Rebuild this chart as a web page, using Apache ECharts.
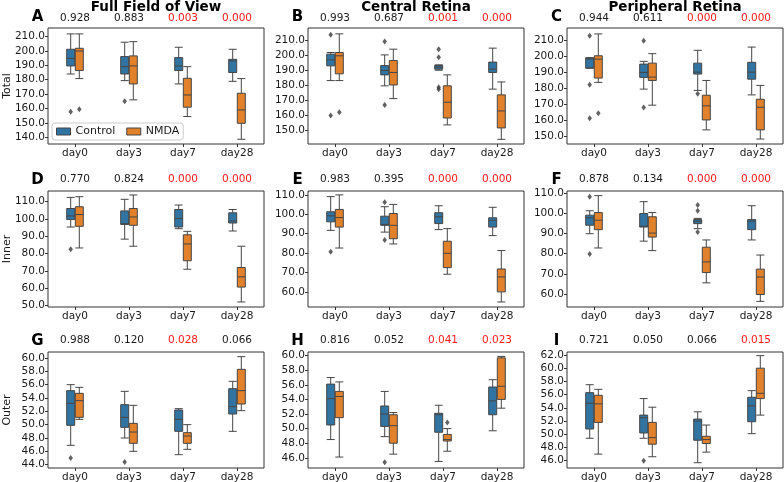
<!DOCTYPE html>
<html><head><meta charset="utf-8">
<script src="https://cdn.jsdelivr.net/npm/echarts@6/dist/echarts.min.js"></script>
<style>html,body{margin:0;padding:0;background:#fff}#c{width:784px;height:482px}</style>
</head><body><div id="c"></div>
<script>
const days = ['day0', 'day3', 'day7', 'day28'];
const columnTitles = ['Full Field of View', 'Central Retina', 'Peripheral Retina'];
const rowNames = ['Total', 'Inner', 'Outer'];
const panelLetters = ['A','B','C','D','E','F','G','H','I'];

// box values: [min, Q1, median, Q3, max]
const totalFullControl = [[184.0,189.6,194.9,201.2,211.9],[179.4,184.0,189.1,196.1,206.1],[177.1,186.4,189.6,195.4,202.6],[178.9,185.0,193.1,194.2,201.2]];
const totalFullNMDA    = [[180.8,186.4,200.0,201.9,211.9],[166.0,177.1,189.6,196.6,206.5],[154.4,160.9,169.4,181.0,189.1],[138.6,149.7,159.0,170.6,180.8]];
const totalFullControlOut = [[0,157.8],[1,165.0]];
const totalFullNMDAOut = [[0,159.5]];
const totalFullP = ['0.928','0.883','0.003','0.000'];

const totalCentralControl = [[183.3,193.1,197.1,200.9,202.0],[179.8,187.1,190.0,193.3,200.4],[190.2,190.9,192.2,193.3,193.8],[177.6,188.7,190.9,195.6,204.9]];
const totalCentralNMDA    = [[183.3,187.8,199.8,202.0,214.4],[171.3,180.4,188.7,196.7,204.2],[153.8,158.4,168.9,179.8,187.1],[144.2,151.8,163.1,173.8,182.4]];
const totalCentralControlOut = [[0,213.8],[0,160.0],[1,209.3],[1,167.1],[2,204.2],[2,198.9],[2,178.9],[2,177.6]];
const totalCentralNMDAOut = [[0,162.2]];
const totalCentralP = ['0.993','0.687','0.001','0.000'];

const totalPeriphControl = [[192.7,192.7,198.4,199.0,199.2],[179.6,186.9,190.0,195.2,196.9],[178.8,189.0,190.2,195.8,203.8],[176.0,185.8,190.2,196.3,205.8]];
const totalPeriphNMDA    = [[183.8,186.5,198.3,200.4,214.0],[169.6,185.0,187.1,195.8,201.7],[154.2,160.4,169.2,175.8,185.0],[148.5,154.2,168.3,173.3,181.9]];
const totalPeriphControlOut = [[0,212.9],[0,182.3],[0,161.5],[1,209.8],[1,168.1],[2,176.7]];
const totalPeriphNMDAOut = [[0,164.6]];
const totalPeriphP = ['0.944','0.611','0.000','0.000'];

const innerFullControl = [[95.4,99.7,101.8,106.1,112.5],[88.4,96.9,97.3,104.7,111.4],[94.4,95.4,100.3,105.5,108.1],[93.1,97.7,98.9,103.6,105.5]];
const innerFullNMDA    = [[83.3,95.8,102.6,107.1,112.9],[84.3,96.4,101.2,106.1,113.9],[71.0,75.9,85.6,90.9,92.9],[52.1,60.7,66.6,72.0,84.3]];
const innerFullControlOut = [[0,82.5]];
const innerFullNMDAOut = [];
const innerFullP = ['0.770','0.824','0.000','0.000'];

const innerCentralControl = [[91.7,96.1,99.2,101.3,109.1],[90.8,94.3,94.8,99.0,103.9],[92.1,95.2,98.7,100.8,104.4],[89.0,93.4,96.9,98.2,103.6]];
const innerCentralNMDA    = [[82.6,93.4,98.3,102.5,110.0],[84.7,87.4,94.3,100.4,105.1],[69.1,72.5,79.9,86.1,92.6],[54.8,60.0,67.7,71.8,81.3]];
const innerCentralControlOut = [[0,80.7],[1,106.2],[1,86.8]];
const innerCentralNMDAOut = [];
const innerCentralP = ['0.983','0.395','0.000','0.000'];

const innerPeriphControl = [[89.9,94.1,97.8,99.1,101.3],[86.2,93.2,93.6,99.9,105.8],[92.4,94.9,96.1,96.9,97.5],[86.8,91.9,96.1,96.9,103.8]];
const innerPeriphNMDA    = [[82.8,91.9,96.6,100.4,108.8],[81.5,88.2,90.2,98.3,100.4],[65.5,70.6,75.9,83.2,86.8],[56.3,59.7,68.4,72.3,79.3]];
const innerPeriphControlOut = [[0,108.3],[0,79.8],[2,104.1],[2,101.3],[2,90.7]];
const innerPeriphNMDAOut = [];
const innerPeriphP = ['0.878','0.134','0.000','0.000'];

const outerFullControl = [[46.9,49.9,53.2,55.1,56.0],[48.0,49.6,51.1,53.0,55.0],[45.5,49.0,50.8,52.2,52.4],[49.0,51.6,52.7,55.4,56.5]];
const outerFullNMDA    = [[50.8,51.1,53.6,54.7,55.6],[46.0,47.2,48.9,50.2,52.9],[46.3,47.2,48.3,48.8,50.0],[52.1,53.1,55.1,58.3,60.2]];
const outerFullControlOut = [[0,45.0],[1,44.4]];
const outerFullNMDAOut = [];
const outerFullP = ['0.988','0.120','0.028','0.066'];

const outerCentralControl = [[48.5,50.5,54.1,56.1,57.0],[48.9,50.3,52.0,53.1,55.1],[45.5,49.5,51.9,52.1,53.2],[49.7,51.9,53.8,55.7,56.7]];
const outerCentralNMDA    = [[46.1,51.5,54.4,55.1,56.4],[46.5,48.0,50.4,51.9,52.2],[46.9,48.3,48.5,49.2,50.0],[52.8,54.0,55.8,59.7,59.9]];
const outerCentralControlOut = [[1,45.4]];
const outerCentralNMDAOut = [[2,50.85]];
const outerCentralP = ['0.816','0.052','0.041','0.023'];

const outerPeriphControl = [[49.4,50.8,54.7,56.3,57.5],[49.4,50.2,52.5,52.9,55.4],[45.7,49.1,52.0,52.3,53.4],[50.1,51.9,54.3,55.6,56.6]];
const outerPeriphNMDA    = [[47.0,51.8,54.6,55.9,56.8],[46.6,48.5,49.5,51.8,54.1],[47.3,48.6,49.2,49.7,51.4],[52.9,55.4,56.2,60.0,61.9]];
const outerPeriphControlOut = [[1,46.0]];
const outerPeriphNMDAOut = [];
const outerPeriphP = ['0.721','0.050','0.066','0.015'];

// y tick labels per panel
const ticksA = [140,150,160,170,180,190,200,210];
const ticksBC = [150,160,170,180,190,200,210];
const ticksD = [50,60,70,80,90,100,110];
const ticksEF = [60,70,80,90,100,110];
const ticksG = [44,46,48,50,52,54,56,58,60];
const ticksH = [46,48,50,52,54,56,58,60];
const ticksI = [46,48,50,52,54,56,58,60,62];

// y axis ranges per panel
const rangeA = [135.3, 216.0], rangeB = [141.1, 218.3], rangeC = [145.4, 217.7];
const rangeD = [49.2, 116.2], rangeE = [52.2, 112.0], rangeF = [53.5, 111.1];
const rangeG = [43.5, 60.9], rangeH = [44.6, 60.5], rangeI = [44.9, 62.45];

const panels = [
  {ctrl: totalFullControl, nmda: totalFullNMDA, ctrlOut: totalFullControlOut, nmdaOut: totalFullNMDAOut, p: totalFullP, range: rangeA, ticks: ticksA},
  {ctrl: totalCentralControl, nmda: totalCentralNMDA, ctrlOut: totalCentralControlOut, nmdaOut: totalCentralNMDAOut, p: totalCentralP, range: rangeB, ticks: ticksBC},
  {ctrl: totalPeriphControl, nmda: totalPeriphNMDA, ctrlOut: totalPeriphControlOut, nmdaOut: totalPeriphNMDAOut, p: totalPeriphP, range: rangeC, ticks: ticksBC},
  {ctrl: innerFullControl, nmda: innerFullNMDA, ctrlOut: innerFullControlOut, nmdaOut: innerFullNMDAOut, p: innerFullP, range: rangeD, ticks: ticksD},
  {ctrl: innerCentralControl, nmda: innerCentralNMDA, ctrlOut: innerCentralControlOut, nmdaOut: innerCentralNMDAOut, p: innerCentralP, range: rangeE, ticks: ticksEF},
  {ctrl: innerPeriphControl, nmda: innerPeriphNMDA, ctrlOut: innerPeriphControlOut, nmdaOut: innerPeriphNMDAOut, p: innerPeriphP, range: rangeF, ticks: ticksEF},
  {ctrl: outerFullControl, nmda: outerFullNMDA, ctrlOut: outerFullControlOut, nmdaOut: outerFullNMDAOut, p: outerFullP, range: rangeG, ticks: ticksG},
  {ctrl: outerCentralControl, nmda: outerCentralNMDA, ctrlOut: outerCentralControlOut, nmdaOut: outerCentralNMDAOut, p: outerCentralP, range: rangeH, ticks: ticksH},
  {ctrl: outerPeriphControl, nmda: outerPeriphNMDA, ctrlOut: outerPeriphControlOut, nmdaOut: outerPeriphNMDAOut, p: outerPeriphP, range: rangeI, ticks: ticksI}
];

const FONT = 'DejaVu Sans';
const BLUE = '#3274a1', ORANGE = '#e1812c', EDGE = '#454545', TEXT = '#1a1a1a';
const colLeft = [48, 308, 567], rowTop = [28, 191, 352];
const PW = 216, PH = 116, SHIFT = 4.3, BOXW = 8;

const grid = [], xAxis = [], yAxis = [], series = [], graphic = [];

panels.forEach((pn, i) => {
  const r = Math.floor(i / 3), c = i % 3;
  const L = colLeft[c], T = rowTop[r];
  const g0 = grid.length;
  grid.push({left: L, top: T, width: PW, height: PH, show: true, borderColor: '#333', borderWidth: 1, backgroundColor: 'rgba(0,0,0,0)', outerBoundsMode: 'none'});
  grid.push({left: L - SHIFT, top: T, width: PW, height: PH, outerBoundsMode: 'none'});
  grid.push({left: L + SHIFT, top: T, width: PW, height: PH, outerBoundsMode: 'none'});

  const xb = xAxis.length;
  xAxis.push({type: 'category', gridIndex: g0, data: days, position: 'bottom',
    axisLine: {show: false},
    axisTick: {show: true, alignWithLabel: true, interval: 0, length: 3, lineStyle: {color: '#333'}},
    axisLabel: {interval: 0, hideOverlap: false, fontSize: 10.5, margin: 4, color: TEXT, fontFamily: FONT}});
  const pv = pn.p;
  xAxis.push({type: 'category', gridIndex: g0, data: days, position: 'top',
    axisLine: {show: false}, axisTick: {show: false},
    axisLabel: {interval: 0, hideOverlap: false, margin: r === 0 ? 4 : 6,
      formatter: (v, idx) => (parseFloat(pv[idx]) < 0.05 ? '{r|' : '{k|') + pv[idx] + '}',
      rich: {r: {color: '#ff1a1a', fontSize: 10.5, fontFamily: FONT}, k: {color: TEXT, fontSize: 10.5, fontFamily: FONT}}}});
  xAxis.push({type: 'category', gridIndex: g0 + 1, data: days, show: false});
  xAxis.push({type: 'category', gridIndex: g0 + 2, data: days, show: false});

  const yb = yAxis.length;
  yAxis.push({type: 'value', gridIndex: g0, min: pn.range[0], max: pn.range[1],
    splitLine: {show: false}, axisLine: {show: false},
    axisTick: {show: true, length: 3, customValues: pn.ticks, lineStyle: {color: '#333'}},
    axisLabel: {customValues: pn.ticks, formatter: v => v.toFixed(1), fontSize: 10.5, margin: 3, color: TEXT, fontFamily: FONT}});
  yAxis.push({type: 'value', gridIndex: g0 + 1, min: pn.range[0], max: pn.range[1], show: false, splitLine: {show: false}});
  yAxis.push({type: 'value', gridIndex: g0 + 2, min: pn.range[0], max: pn.range[1], show: false, splitLine: {show: false}});

  const boxStyle = col => ({color: col, borderColor: EDGE, borderWidth: 1});
  series.push({type: 'boxplot', name: 'Control', xAxisIndex: xb + 2, yAxisIndex: yb + 1, data: pn.ctrl,
    boxWidth: [BOXW, BOXW], itemStyle: boxStyle(BLUE), silent: true});
  series.push({type: 'boxplot', name: 'NMDA', xAxisIndex: xb + 3, yAxisIndex: yb + 2, data: pn.nmda,
    boxWidth: [BOXW, BOXW], itemStyle: boxStyle(ORANGE), silent: true});
  series.push({type: 'scatter', name: 'Control outliers', xAxisIndex: xb + 2, yAxisIndex: yb + 1, data: pn.ctrlOut,
    symbol: 'diamond', symbolSize: [4.5, 6], itemStyle: {color: '#3a3a3a'}, silent: true});
  series.push({type: 'scatter', name: 'NMDA outliers', xAxisIndex: xb + 3, yAxisIndex: yb + 2, data: pn.nmdaOut,
    symbol: 'diamond', symbolSize: [4.5, 6], itemStyle: {color: '#3a3a3a'}, silent: true});

  graphic.push({type: 'text', x: L - 10.5, y: T - 10.5,
    style: {text: panelLetters[i], font: 'bold 15px "' + FONT + '"', fill: '#000', align: 'center', verticalAlign: 'middle'}});
});

columnTitles.forEach((t, c) => {
  graphic.push({type: 'text', x: colLeft[c] + PW / 2, y: 7,
    style: {text: t, font: 'bold 13.5px "' + FONT + '"', fill: '#000', align: 'center', verticalAlign: 'middle'}});
});
rowNames.forEach((t, r) => {
  graphic.push({type: 'text', x: 7, y: rowTop[r] + PH / 2, rotation: Math.PI / 2,
    style: {text: t, font: '11px "' + FONT + '"', fill: TEXT, align: 'center', verticalAlign: 'middle'}});
});

const chart = echarts.init(document.getElementById('c'), null, {renderer: 'canvas'});
chart.setOption({
  animation: false,
  backgroundColor: '#fff',
  grid, xAxis, yAxis, series, graphic,
  legend: {
    left: 52, top: 123, orient: 'horizontal', selectedMode: false,
    itemWidth: 14, itemHeight: 7, itemGap: 11, padding: [3, 4],
    borderColor: '#cccccc', borderWidth: 1, borderRadius: 3, backgroundColor: 'rgba(255,255,255,0.85)',
    textStyle: {fontSize: 11, fontFamily: FONT, color: TEXT},
    data: [
      {name: 'Control', icon: 'rect', itemStyle: {color: BLUE, borderColor: EDGE, borderWidth: 1}},
      {name: 'NMDA', icon: 'rect', itemStyle: {color: ORANGE, borderColor: EDGE, borderWidth: 1}}
    ]
  }
});
</script>
</body></html>
